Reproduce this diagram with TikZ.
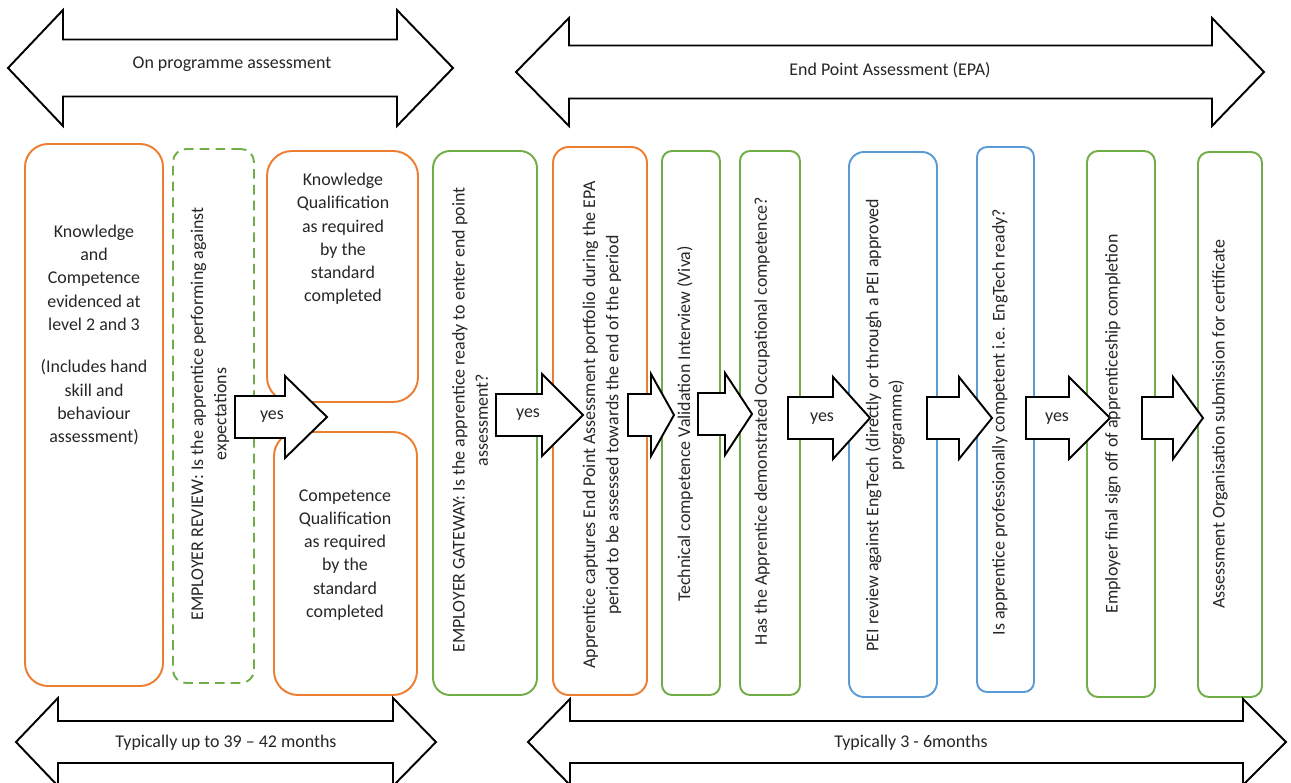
\documentclass[tikz,border=0pt]{standalone}
\usepackage{fontspec}
\setmainfont{Carlito}
\usetikzlibrary{fit}
\definecolor{epaorange}{RGB}{237,125,49}
\definecolor{epagreen}{RGB}{112,173,71}
\definecolor{epablue}{RGB}{91,155,213}

\begin{document}
\begin{tikzpicture}[x=0.02cm, y=-0.02cm,
  stage/.style = {rectangle, line width=1.1pt, inner sep=0pt, outer sep=0pt},
  blk/.style = {draw=black, fill=white, line width=1.1pt, line join=miter},
  lbl/.style = {font=\fontsize{10.2}{13.2}\selectfont, text=black!85, align=center, inner sep=0pt},
  vlbl/.style = {lbl, rotate=90}]
\useasboundingbox (0,0) rectangle (1291,783);
% stage boxes
\node[stage, draw=epaorange, rounded corners=0.46cm, fit={(25,144) (163,686)}] (kc) {};
\node[stage, draw=epagreen, dash pattern=on 5.5pt off 3.5pt, rounded corners=0.26cm, fit={(173,149) (254,683)}] (review) {};
\node[stage, draw=epaorange, rounded corners=0.5cm, fit={(267,151) (418,402)}] (kq) {};
\node[stage, draw=epaorange, rounded corners=0.48cm, fit={(274,432) (417,695)}] (cq) {};
\node[stage, draw=epagreen, rounded corners=0.34cm, fit={(433,151) (537,695)}] (gateway) {};
\node[stage, draw=epaorange, rounded corners=0.32cm, fit={(553,147) (647,695)}] (portfolio) {};
\node[stage, draw=epagreen, rounded corners=0.2cm, fit={(662,151) (720,695)}] (viva) {};
\node[stage, draw=epagreen, rounded corners=0.2cm, fit={(740,151) (800,695)}] (occ) {};
\node[stage, draw=epablue, rounded corners=0.3cm, fit={(849,152) (937,697)}] (pei) {};
\node[stage, draw=epablue, rounded corners=0.2cm, fit={(977,147) (1034,692)}] (engtech) {};
\node[stage, draw=epagreen, rounded corners=0.22cm, fit={(1087,151) (1155,697)}] (signoff) {};
\node[stage, draw=epagreen, rounded corners=0.22cm, fit={(1198,152) (1262,697)}] (cert) {};
% block arrows between the stages
\foreach \a/\b/\c/\m in {235/285/327/417, 496/542/583/415, 628/651/674/415, 698/725/752/414,
                         788/833/870/418, 927/959/992/418, 1026/1069/1110/418, 1142/1173/1203/418}
  \draw[blk] (\a,{\m-21}) -- (\b,{\m-21}) -- (\b,{\m-41}) -- (\c,\m) -- (\b,{\m+41})
             -- (\b,{\m+21}) -- (\a,{\m+21}) -- cycle;
% timeline arrows
\foreach \p/\q/\r/\s/\m/\h/\k in {8/63/397/453/68/28.5/58, 516/569/1212/1264/72/26.5/54,
                                 16/58/393/436/742/21/44, 528/570/1243/1286/742/21/43}
  \draw[blk] (\p,\m) -- (\q,{\m-\k}) -- (\q,{\m-\h}) -- (\r,{\m-\h}) -- (\r,{\m-\k}) -- (\s,\m)
             -- (\r,{\m+\k}) -- (\r,{\m+\h}) -- (\q,{\m+\h}) -- (\q,{\m+\k}) -- cycle;
\node[lbl] (onprog) at (232,64) {On programme assessment};
\node[lbl] (epa) at (890,70) {End Point Assessment (EPA)};
\node[lbl] (months) at (226,743) {Typically up to 39 – 42 months};
\node[lbl] (epamonths) at (911,743) {Typically 3 - 6months};
% texts
\node[lbl] (kctext) at (94,335) {Knowledge\\and\\Competence\\evidenced at\\level 2 and 3\\[11pt]
  (Includes hand\\skill and\\behaviour\\assessment)};
\node[lbl] (kqtext) at (343,239) {Knowledge\\Qualification\\as required\\by the\\standard\\completed};
\node[lbl] (cqtext) at (345,555) {Competence\\Qualification\\as required\\by the\\standard\\completed};
\node[vlbl] (reviewtext) at (210,414) {EMPLOYER REVIEW: Is the apprentice performing against\\expectations};
\node[vlbl] (gatewaytext) at (470,420) {EMPLOYER GATEWAY: Is the apprentice ready to enter end point\\assessment?};
\node[vlbl] (portfoliotext) at (602,425) {Apprentice captures End Point Assessment portfolio during the EPA\\period to be assessed towards the end of the period};
\node[vlbl] (vivatext) at (685,424) {Technical competence Validation Interview (Viva)};
\node[vlbl] (occtext) at (762,421) {Has the Apprentice demonstrated Occupational competence?};
\node[vlbl] (peitext) at (885,425) {PEI review against EngTech (directly or through a PEI approved\\programme)};
\node[vlbl] (engtechtext) at (1000,422) {Is apprentice professionally competent i.e. EngTech ready?};
\node[vlbl] (signofftext) at (1113,424) {Employer final sign off of apprenticeship completion};
\node[vlbl] (certtext) at (1220,424) {Assessment Organisation submission for certificate};
\node[lbl] (yes1) at (272,417) {yes};
\node[lbl] (yes2) at (528,415) {yes};
\node[lbl] (yes3) at (822,419) {yes};
\node[lbl] (yes4) at (1057,419) {yes};
\end{tikzpicture}
\end{document}
